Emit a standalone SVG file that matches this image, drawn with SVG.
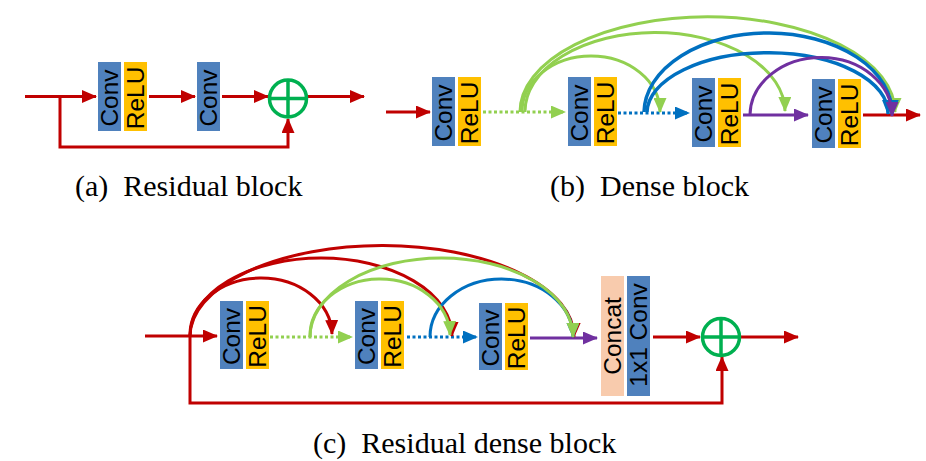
<svg xmlns="http://www.w3.org/2000/svg" width="926" height="461" viewBox="0 0 926 461">
<style>
.conv{fill:#4F81BD}
.relu{fill:#FFC000}
.cat{fill:#F8CBAD}
.lbl{font-family:"Liberation Sans",Arial,sans-serif;font-size:24.5px;fill:#000;text-anchor:middle}
.cap{font-family:"Liberation Serif","Times New Roman",serif;font-size:30px;fill:#000;white-space:pre}
.add{fill:#fff;stroke:#00B050;stroke-width:3.5}
.addx{stroke:#00B050;stroke-width:3.5}
.c{fill:none;stroke-width:3}
.r{stroke:#C00000}
.g{stroke:#92D050}
.b{stroke:#0070C0}
.p{stroke:#7030A0}
.dot{stroke-dasharray:3 2.5}
.mr{marker-end:url(#ar)}
.mg{marker-end:url(#ag)}
.mb{marker-end:url(#ab)}
.mp{marker-end:url(#ap)}
</style>
<defs>
<marker id="ar" markerUnits="userSpaceOnUse" markerWidth="15" markerHeight="13" refX="14" refY="6.5" orient="auto"><path d="M0,0 L15,6.5 L0,13 Z" fill="#C00000"/></marker>
<marker id="ag" markerUnits="userSpaceOnUse" markerWidth="15" markerHeight="13" refX="14" refY="6.5" orient="auto"><path d="M0,0 L15,6.5 L0,13 Z" fill="#92D050"/></marker>
<marker id="ab" markerUnits="userSpaceOnUse" markerWidth="15" markerHeight="13" refX="14" refY="6.5" orient="auto"><path d="M0,0 L15,6.5 L0,13 Z" fill="#0070C0"/></marker>
<marker id="ap" markerUnits="userSpaceOnUse" markerWidth="15" markerHeight="13" refX="14" refY="6.5" orient="auto"><path d="M0,0 L15,6.5 L0,13 Z" fill="#7030A0"/></marker>
</defs>

<g id="connectors">
<!-- (a) -->
<path class="c r mr" d="M25 96.5 H96"/>
<path class="c r mr" d="M149 96.5 H195"/>
<path class="c r mr" d="M222 96.5 H268"/>
<path class="c r mr" d="M308 96.5 H364"/>
<path class="c r mr" d="M60 96.5 V147 H288 V119"/>
<!-- (b) -->
<path class="c r mr" d="M386 112 H430"/>
<path class="c g dot mg" d="M483 112 H565"/>
<path class="c b dot mb" d="M618 113 H689"/>
<path class="c p mp" d="M743 115 H808"/>
<path class="c r mr" d="M863 115 H920"/>
<path class="c g mg" d="M522 112 A69 56 0 0 1 660 112"/>
<path class="c g mg" d="M525 112 A130 79 0 0 1 785 111"/>
<path class="c g mg" d="M520 112 A187 95 0 0 1 895 112"/>
<path class="c b mb" style="stroke-width:3.5" d="M644 112 A124 80 0 0 1 892 114"/>
<path class="c b mb" style="stroke-width:3.5" d="M647 112 A120 60 0 0 1 888 114"/>
<path class="c p mp" d="M750 115 A71 58 0 0 1 892 116"/>
<!-- (c) -->
<path class="c r mr" d="M145 336 H217"/>
<path class="c g dot mg" d="M270 337 H352"/>
<path class="c b dot mb" d="M407 337 H477"/>
<path class="c p mp" d="M530 338 H597"/>
<path class="c r mr" d="M653 337 H700"/>
<path class="c r mr" d="M741 337 H798"/>
<path class="c r mr" d="M190 336 V403 H722 V357"/>
<path class="c r mr" d="M190 336 A71 57 0 0 1 332 334"/>
<path class="c r mr" d="M190 336 A131 78 0 0 1 452 336"/>
<path class="c r mr" d="M190 336 A192 91 0 0 1 574 337"/>
<path class="c b mb" d="M430 337 A71.5 58 0 0 1 573 337"/>
<path class="c g mg" d="M310 337 A70 57 0 0 1 450 335"/>
<path class="c g mg" d="M310 337 A131.5 79 0 0 1 573 337"/>
</g>

<!-- (a) nodes -->
<g id="a-conv-relu">
<rect class="conv" x="98" y="62" width="23" height="69"/>
<text class="lbl" transform="translate(118.3,98) rotate(-90)">Conv</text>
<rect class="relu" x="124" y="62" width="23" height="69"/>
<text class="lbl" transform="translate(144.3,98) rotate(-90)">ReLU</text>
</g>
<g id="a-conv">
<rect class="conv" x="197" y="62" width="23" height="69"/>
<text class="lbl" transform="translate(217.3,98) rotate(-90)">Conv</text>
</g>
<g id="a-add">
<circle class="add" cx="288" cy="98.5" r="18.5"/>
<path class="addx" d="M269.5 98.5 H306.5 M288 80 V117"/>
</g>

<!-- (b) nodes -->
<g id="b-1">
<rect class="conv" x="432" y="77" width="23" height="69"/>
<text class="lbl" transform="translate(452.3,113) rotate(-90)">Conv</text>
<rect class="relu" x="458" y="77" width="23" height="69"/>
<text class="lbl" transform="translate(478.3,113) rotate(-90)">ReLU</text>
</g>
<g id="b-2">
<rect class="conv" x="568" y="77" width="23" height="69"/>
<text class="lbl" transform="translate(588.3,113) rotate(-90)">Conv</text>
<rect class="relu" x="594" y="77" width="23" height="69"/>
<text class="lbl" transform="translate(614.3,113) rotate(-90)">ReLU</text>
</g>
<g id="b-3">
<rect class="conv" x="692" y="78" width="23" height="69"/>
<text class="lbl" transform="translate(712.3,114) rotate(-90)">Conv</text>
<rect class="relu" x="718" y="78" width="23" height="69"/>
<text class="lbl" transform="translate(738.3,114) rotate(-90)">ReLU</text>
</g>
<g id="b-4">
<rect class="conv" x="812" y="79" width="23" height="69"/>
<text class="lbl" transform="translate(832.3,115) rotate(-90)">Conv</text>
<rect class="relu" x="838" y="79" width="23" height="69"/>
<text class="lbl" transform="translate(858.3,115) rotate(-90)">ReLU</text>
</g>

<!-- (c) nodes -->
<g id="c-1">
<rect class="conv" x="220" y="301" width="23" height="68"/>
<text class="lbl" transform="translate(240.3,336.5) rotate(-90)">Conv</text>
<rect class="relu" x="246" y="301" width="23" height="68"/>
<text class="lbl" transform="translate(266.3,336.5) rotate(-90)">ReLU</text>
</g>
<g id="c-2">
<rect class="conv" x="355" y="301" width="23" height="68"/>
<text class="lbl" transform="translate(375.3,336.5) rotate(-90)">Conv</text>
<rect class="relu" x="381" y="301" width="23" height="68"/>
<text class="lbl" transform="translate(401.3,336.5) rotate(-90)">ReLU</text>
</g>
<g id="c-3">
<rect class="conv" x="479" y="303" width="23" height="67"/>
<text class="lbl" transform="translate(499.3,338) rotate(-90)">Conv</text>
<rect class="relu" x="505" y="303" width="23" height="67"/>
<text class="lbl" transform="translate(525.3,338) rotate(-90)">ReLU</text>
</g>
<g id="c-concat">
<rect class="cat" x="601" y="276" width="23" height="120"/>
<text class="lbl" transform="translate(621.3,336) rotate(-90)">Concat</text>
<rect class="conv" x="627" y="276" width="23" height="120"/>
<text class="lbl" transform="translate(647.3,335) rotate(-90)">1x1 Conv</text>
</g>
<g id="c-add">
<circle class="add" cx="721" cy="337" r="18.5"/>
<path class="addx" d="M702.5 337 H739.5 M721 318.5 V355.5"/>
</g>

<g id="captions">
<text class="cap" x="75" y="196">(a)  Residual block</text>
<text class="cap" x="550" y="196">(b)  Dense block</text>
<text class="cap" x="313" y="453">(c)  Residual dense block</text>
</g>
</svg>
